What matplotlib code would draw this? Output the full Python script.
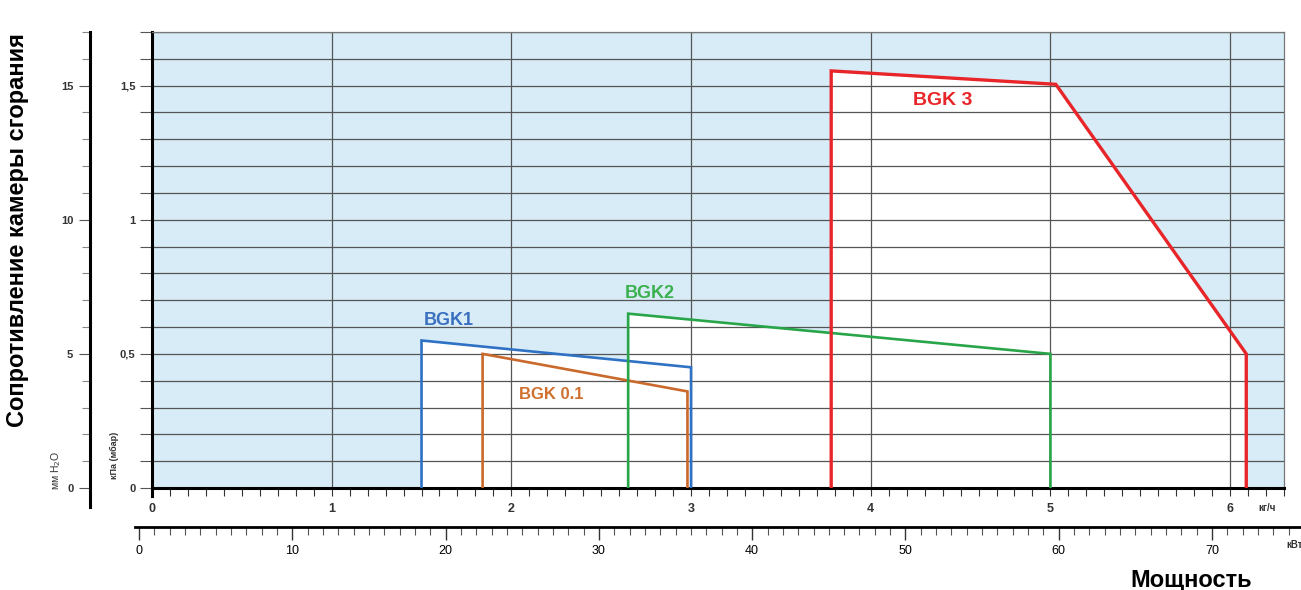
import matplotlib.pyplot as plt
from matplotlib.ticker import MultipleLocator, FuncFormatter

plt.rcParams['font.family'] = ['Liberation Sans', 'DejaVu Sans']

# burner working fields: flow (kg/h) vs. combustion chamber resistance (mbar)
bgk01_x = [1.84, 1.84, 2.98, 2.98]
bgk01_y = [0.0, 0.50, 0.36, 0.0]
bgk1_x = [1.50, 1.50, 3.00, 3.00]
bgk1_y = [0.0, 0.55, 0.45, 0.0]
bgk2_x = [2.65, 2.65, 5.00, 5.00]
bgk2_y = [0.0, 0.65, 0.50, 0.0]
bgk3_x = [3.78, 3.78, 5.03, 6.09, 6.09]
bgk3_y = [0.0, 1.555, 1.505, 0.50, 0.0]

models = [
    ("BGK1", bgk1_x, bgk1_y, "#2f72c4", "#3a6fc0", (1.65, 0.625), 13),
    ("BGK 0.1", bgk01_x, bgk01_y, "#c96a2c", "#d0702e", (2.22, 0.35), 12),
    ("BGK2", bgk2_x, bgk2_y, "#27a548", "#3bb04f", (2.77, 0.725), 13),
    ("BGK 3", bgk3_x, bgk3_y, "#e8262a", "#e8262a", (4.40, 1.445), 14),
]

W, H = 1301, 590
fig = plt.figure(figsize=(W / 100, H / 100), dpi=100)


def box(l, r, t, b):
    return [l / W, 1 - b / H, (r - l) / W, (b - t) / H]


ax = fig.add_axes(box(152, 1284, 32, 488))
ax.set_facecolor("#d7ecf7")
ax.set_xlim(0, 6.3)
ax.set_ylim(0, 1.7)
ax.set_axisbelow("line")

for name, xs, ys, c, tc, pos, fs in models:
    ax.fill(xs, ys, color="white", zorder=1, lw=0)
for name, xs, ys, c, tc, pos, fs in models:
    lw = 2.4 if name == "BGK 3" else 1.9
    ax.plot(xs, ys, color=c, lw=lw, zorder=3, solid_joinstyle="miter")
    ax.text(pos[0], pos[1], name, color=tc, fontsize=fs, fontweight="bold",
            ha="center", va="center", zorder=4)

ax.yaxis.set_major_locator(MultipleLocator(0.1))
ax.xaxis.set_major_locator(MultipleLocator(1))
ax.xaxis.set_minor_locator(MultipleLocator(0.1))


def kpa_fmt(v, _):
    if abs(v * 2 - round(v * 2)) < 1e-6:
        return f"{v:g}".replace(".", ",")
    return ""


ax.yaxis.set_major_formatter(FuncFormatter(kpa_fmt))
ax.grid(True, axis="y", color="#555555", lw=0.9)
ax.grid(True, axis="x", which="major", color="#555555", lw=0.9)
ax.tick_params(axis="y", length=9, width=0.8, color="#555555", pad=3,
               labelsize=8, labelcolor="#333333")
ax.tick_params(axis="x", which="both", length=6, width=0.8, color="#333333",
               pad=5, labelsize=9)
for lab in ax.get_yticklabels():
    lab.set_fontweight("bold")
for lab in ax.get_xticklabels():
    lab.set_fontweight("bold")
    lab.set_color("#333333")

ax.spines["left"].set_linewidth(2.2)
ax.spines["bottom"].set_linewidth(2.2)
ax.spines["left"].set_bounds(-0.03, 1.7)
for s in ("top", "right"):
    ax.spines[s].set_color("#777777")
    ax.spines[s].set_linewidth(0.9)

# mm H2O scale
ax_mm = fig.add_axes(box(90, 92, 32, 488))
ax_mm.set_ylim(0, 17)
ax_mm.set_xticks([])
for s in ("top", "right", "bottom"):
    ax_mm.spines[s].set_visible(False)
ax_mm.patch.set_alpha(0)
ax_mm.spines["left"].set_linewidth(2.2)
ax_mm.spines["left"].set_bounds(-0.7, 17)
ax_mm.yaxis.set_major_locator(MultipleLocator(5))
ax_mm.yaxis.set_minor_locator(MultipleLocator(1))
ax_mm.tick_params(axis="y", which="major", length=8, width=0.8,
                  color="#555555", labelsize=8, labelcolor="#333333", pad=4)
ax_mm.tick_params(axis="y", which="minor", length=6, width=0.8,
                  color="#888888")
for lab in ax_mm.get_yticklabels():
    lab.set_fontweight("bold")

# kW scale
ax_kw = fig.add_axes(box(135, 1301, 500, 527))
ax_kw.set_xlim(-0.26, 75.8)
ax_kw.set_yticks([])
ax_kw.patch.set_alpha(0)
for s in ("top", "right", "left"):
    ax_kw.spines[s].set_visible(False)
ax_kw.spines["bottom"].set_linewidth(2.0)
ax_kw.xaxis.set_major_locator(MultipleLocator(10))
ax_kw.xaxis.set_minor_locator(MultipleLocator(1))
ax_kw.tick_params(axis="x", which="major", length=9, width=1.0,
                  color="#333333", labelsize=9, pad=4)
ax_kw.tick_params(axis="x", which="minor", length=6, width=0.8,
                  color="#555555")

# unit labels
fig.text(1258 / W, 1 - 508 / H, "кг/ч", fontsize=7, fontweight="bold",
         color="#333333", va="center", ha="left")
fig.text(1286 / W, 1 - 545 / H, "кВт", fontsize=7, fontweight="bold",
         color="#333333", va="center", ha="left")
fig.text(56 / W, 1 - 470 / H, "мм H$_2$O", fontsize=7.5, rotation=90,
         color="#333333", va="center", ha="center")
fig.text(114 / W, 1 - 455 / H, "кПа (мбар)", fontsize=6.5, fontweight="bold",
         rotation=90, color="#333333", va="center", ha="center")

fig.text(18 / W, 1 - 230 / H, "Сопротивление камеры сгорания", fontsize=17,
         fontweight="bold", rotation=90, va="center", ha="center")
fig.text(1191 / W, 1 - 580 / H, "Мощность", fontsize=17, fontweight="bold",
         va="center", ha="center")

fig.savefig("out.png", dpi=100, facecolor="white")
